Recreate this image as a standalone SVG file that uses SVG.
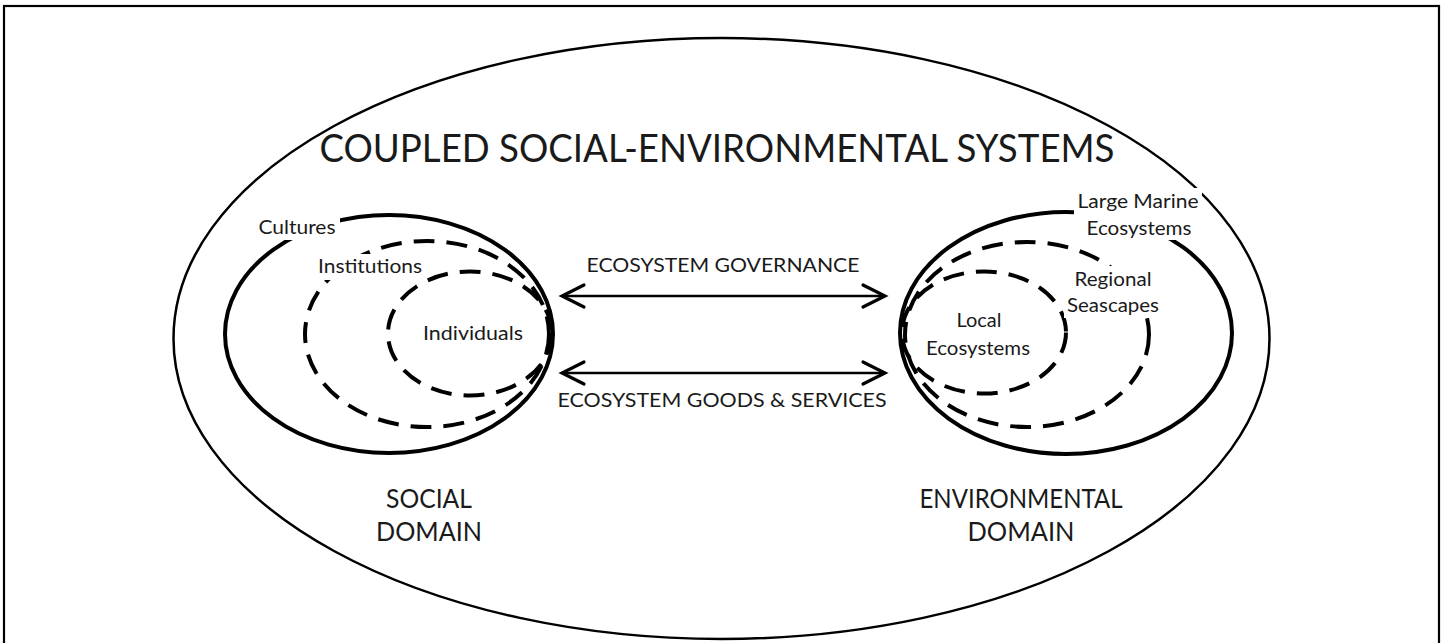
<svg xmlns="http://www.w3.org/2000/svg" width="1442" height="643" viewBox="0 0 1442 643">
<defs>
<style>
.t{font-family:Lato,"Open Sans","Liberation Sans",sans-serif;fill:#1a1a1a;text-anchor:middle}
.solid{fill:none;stroke:#000;stroke-width:4}
.dash{fill:none;stroke:#000;stroke-width:4;stroke-dasharray:21 12}
.bg{fill:#fff}
.arr{fill:none;stroke:#000;stroke-width:2.5}
</style>
<marker id="ah" markerUnits="userSpaceOnUse" markerWidth="30" markerHeight="30" viewBox="-26 -15 30 30" refX="0" refY="0" orient="auto-start-reverse">
<path d="M-22,-11 L0,0 L-22,11" fill="none" stroke="#000" stroke-width="3.2" stroke-linecap="round" stroke-linejoin="miter"/>
</marker>
</defs>
<rect x="0" y="0" width="1442" height="643" fill="#fff"/>
<rect x="4" y="6" width="1435" height="700" fill="none" stroke="#000" stroke-width="2.2"/>
<g id="outer-system">
<ellipse cx="721.5" cy="338.5" rx="548" ry="300.5" fill="none" stroke="#000" stroke-width="2.5"/>
<text class="t" x="717" y="162" font-size="38" textLength="795" lengthAdjust="spacingAndGlyphs">COUPLED SOCIAL-ENVIRONMENTAL SYSTEMS</text>
</g>
<g id="social-domain">
<ellipse class="solid" cx="389" cy="334" rx="164" ry="119"/>
<ellipse class="dash" cx="427" cy="334" rx="122" ry="93"/>
<ellipse class="dash" cx="470" cy="333.5" rx="82" ry="62"/>
<rect class="bg" x="254" y="214" width="86" height="26"/>
<rect class="bg" x="314" y="254" width="112" height="26"/>
<text class="t" x="297" y="234" font-size="18.5" textLength="77" lengthAdjust="spacingAndGlyphs">Cultures</text>
<text class="t" x="370" y="273" font-size="18.5" textLength="104" lengthAdjust="spacingAndGlyphs">Institutions</text>
<text class="t" x="473" y="340" font-size="18.5" textLength="100" lengthAdjust="spacingAndGlyphs">Individuals</text>
<text class="t" x="429" y="508" font-size="26.5" textLength="86" lengthAdjust="spacingAndGlyphs">SOCIAL</text>
<text class="t" x="429" y="541" font-size="26.5" textLength="106" lengthAdjust="spacingAndGlyphs">DOMAIN</text>
</g>
<g id="environmental-domain">
<ellipse class="solid" cx="1066" cy="333" rx="166" ry="121"/>
<ellipse class="dash" cx="1027" cy="334.5" rx="122" ry="92.5"/>
<ellipse class="dash" cx="984" cy="332.5" rx="82" ry="61"/>
<rect class="bg" x="1074" y="188" width="128" height="52"/>
<rect class="bg" x="1064" y="266" width="98" height="52"/>
<text class="t" x="1138" y="208" font-size="18.5" textLength="121" lengthAdjust="spacingAndGlyphs">Large Marine</text>
<text class="t" x="1139" y="235" font-size="18.5" textLength="105" lengthAdjust="spacingAndGlyphs">Ecosystems</text>
<text class="t" x="1113" y="286" font-size="18.5" textLength="77" lengthAdjust="spacingAndGlyphs">Regional</text>
<text class="t" x="1113" y="312" font-size="18.5" textLength="92" lengthAdjust="spacingAndGlyphs">Seascapes</text>
<text class="t" x="979" y="327" font-size="18.5" textLength="45" lengthAdjust="spacingAndGlyphs">Local</text>
<text class="t" x="978" y="355" font-size="18.5" textLength="104" lengthAdjust="spacingAndGlyphs">Ecosystems</text>
<text class="t" x="1021" y="508" font-size="26.5" textLength="203" lengthAdjust="spacingAndGlyphs">ENVIRONMENTAL</text>
<text class="t" x="1021" y="541" font-size="26.5" textLength="107" lengthAdjust="spacingAndGlyphs">DOMAIN</text>
</g>
<g id="connectors">
<line class="arr" x1="562" y1="296" x2="885" y2="296" marker-start="url(#ah)" marker-end="url(#ah)"/>
<line class="arr" x1="562" y1="373" x2="885" y2="373" marker-start="url(#ah)" marker-end="url(#ah)"/>
<text class="t" x="723" y="272" font-size="19.5" textLength="273" lengthAdjust="spacingAndGlyphs">ECOSYSTEM GOVERNANCE</text>
<text class="t" x="722" y="407" font-size="19.5" textLength="329" lengthAdjust="spacingAndGlyphs">ECOSYSTEM GOODS &amp; SERVICES</text>
</g>
</svg>
